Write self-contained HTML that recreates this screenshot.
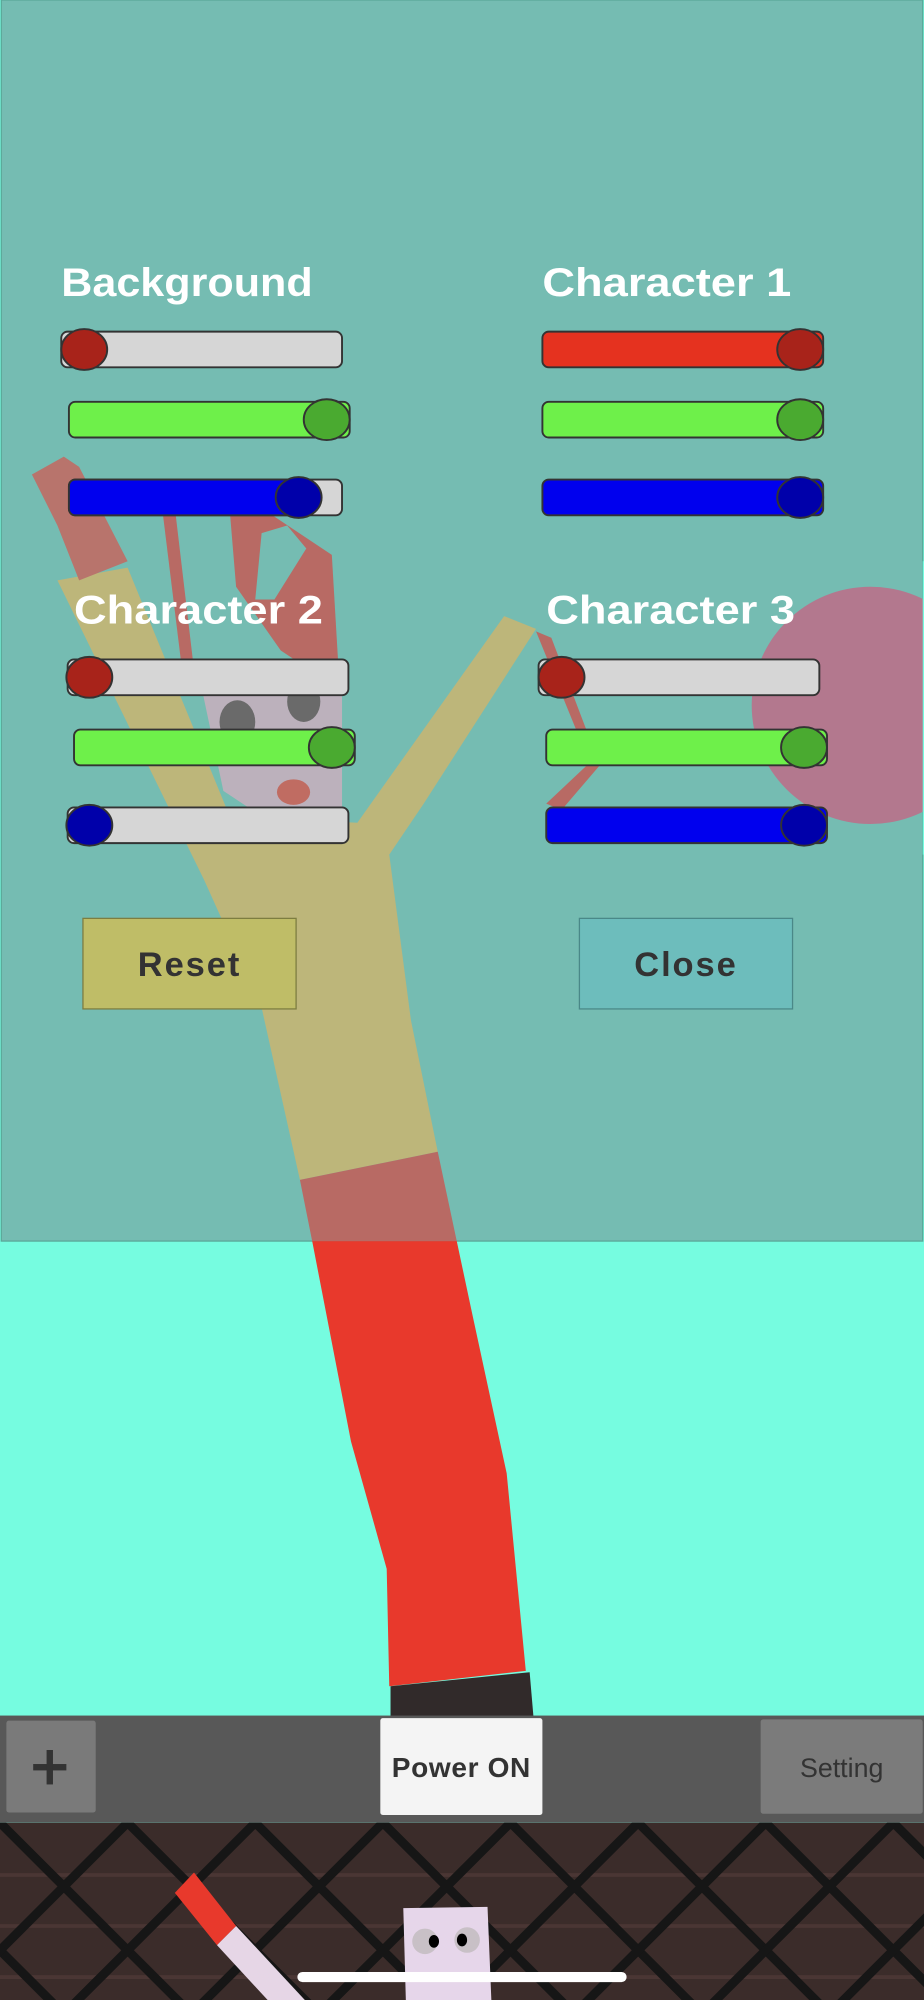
<!DOCTYPE html>
<html><head><meta charset="utf-8"><style>html,body{margin:0;padding:0;background:#76fce0}svg{display:block}</style></head>
<body>
<svg width="924" height="2000" viewBox="0 0 724 1568" preserveAspectRatio="none" xmlns="http://www.w3.org/2000/svg" font-family="Liberation Sans, sans-serif">
<defs>
<clipPath id="top"><rect x="0" y="0" width="724" height="973"/></clipPath>
<clipPath id="bot"><rect x="0" y="973" width="724" height="400"/></clipPath>
<clipPath id="scr"><rect x="0" y="1429" width="724" height="139"/></clipPath>
</defs>
<rect width="724" height="1568" fill="#76fce0"/>
<!-- panel -->
<rect x="1" y="0" width="722" height="973" fill="#75bcb2" stroke="#5aa898" stroke-width="1"/>
<!-- figure (blended inside panel) -->
<circle cx="682" cy="553" r="93" fill="#b3788e"/>
<rect x="723" y="440" width="2" height="230" fill="#76fce0"/>
<polygon points="45,455 100,445 180,640 280,645 395,483 420,493 332,630 305,670 322,800 343,903 235,925 205,790 160,690" fill="#bdb67a"/>
<polygon points="25,372 50,358 62,366 100,440 62,455 45,412" fill="#b8746c"/>
<polygon points="127,398 137,398 152,525 143,528" fill="#b86a64"/>
<polygon points="180,400 200,395 260,435 265,520 250,530 220,510 185,460" fill="#b86a64"/>
<polygon points="205,418 225,412 240,430 215,470 200,470" fill="#75bcb2"/>
<polygon points="155,525 268,520 268,640 220,650 175,620" fill="#bcb1bc"/>
<ellipse cx="186" cy="566" rx="14" ry="17" fill="#6a6a6a"/>
<ellipse cx="238" cy="550" rx="13" ry="16" fill="#6a6a6a"/>
<ellipse cx="230" cy="621" rx="13" ry="10" fill="#c06c62"/>
<polygon points="420,495 432,500 470,600 440,635 428,630 462,598" fill="#b86a64"/>
<polygon points="235,925 343,903 370,1030 397,1155 412,1310 305,1322 303,1230 275,1130 245,975" fill="#b86a64" clip-path="url(#top)"/>
<polygon points="235,925 343,903 370,1030 397,1155 412,1310 305,1322 303,1230 275,1130 245,975" fill="#e8392c" clip-path="url(#bot)"/>
<polygon points="306,1322 415,1311 418,1346 306,1346" fill="#312a2a"/>
<!-- labels -->
<g fill="#fff" font-weight="bold" font-size="31">
<text x="48" y="232" textLength="197" lengthAdjust="spacingAndGlyphs">Background</text>
<text x="425" y="232" textLength="195" lengthAdjust="spacingAndGlyphs">Character 1</text>
<text x="58" y="489" textLength="195" lengthAdjust="spacingAndGlyphs">Character 2</text>
<text x="428" y="489" textLength="195" lengthAdjust="spacingAndGlyphs">Character 3</text>
</g>
<!-- sliders -->
<g stroke="#333" stroke-width="1.5">
<rect x="48" y="260" width="220" height="28" rx="5" fill="#d6d6d6"/><ellipse cx="66" cy="274" rx="18" ry="16" fill="#a8231a"/>
<rect x="54" y="315" width="220" height="28" rx="5" fill="#6ef04a"/><ellipse cx="256" cy="329" rx="18" ry="16" fill="#4aaa30"/>
<rect x="54" y="376" width="214" height="28" rx="5" fill="#d6d6d6"/><rect x="54" y="376" width="180" height="28" rx="5" fill="#0000ee"/><ellipse cx="234" cy="390" rx="18" ry="16" fill="#0000aa"/>
<rect x="425" y="260" width="220" height="28" rx="5" fill="#e5321f"/><ellipse cx="627" cy="274" rx="18" ry="16" fill="#a8231a"/>
<rect x="425" y="315" width="220" height="28" rx="5" fill="#6ef04a"/><ellipse cx="627" cy="329" rx="18" ry="16" fill="#4aaa30"/>
<rect x="425" y="376" width="220" height="28" rx="5" fill="#0000ee"/><ellipse cx="627" cy="390" rx="18" ry="16" fill="#0000aa"/>
<rect x="53" y="517" width="220" height="28" rx="5" fill="#d6d6d6"/><ellipse cx="70" cy="531" rx="18" ry="16" fill="#a8231a"/>
<rect x="58" y="572" width="220" height="28" rx="5" fill="#6ef04a"/><ellipse cx="260" cy="586" rx="18" ry="16" fill="#4aaa30"/>
<rect x="53" y="633" width="220" height="28" rx="5" fill="#d6d6d6"/><ellipse cx="70" cy="647" rx="18" ry="16" fill="#0000aa"/>
<rect x="422" y="517" width="220" height="28" rx="5" fill="#d6d6d6"/><ellipse cx="440" cy="531" rx="18" ry="16" fill="#a8231a"/>
<rect x="428" y="572" width="220" height="28" rx="5" fill="#6ef04a"/><ellipse cx="630" cy="586" rx="18" ry="16" fill="#4aaa30"/>
<rect x="428" y="633" width="220" height="28" rx="5" fill="#0000ee"/><ellipse cx="630" cy="647" rx="18" ry="16" fill="#0000aa"/>
</g>
<!-- buttons -->
<rect x="65" y="720" width="167" height="71" fill="#bfbd67" stroke="#7d7d40"/>
<text x="148.5" y="765" text-anchor="middle" font-size="27" font-weight="bold" fill="#333" letter-spacing="1.5">Reset</text>
<rect x="454" y="720" width="167" height="71" fill="#6dbdbc" stroke="#4a8888"/>
<text x="537.5" y="765" text-anchor="middle" font-size="27" font-weight="bold" fill="#333" letter-spacing="1.5">Close</text>
<!-- bottom bar -->
<rect x="0" y="1345" width="724" height="84" fill="#585858"/>
<rect x="5" y="1349" width="70" height="72" rx="2" fill="#7a7a7a"/>
<rect x="26" y="1383" width="26" height="5" fill="#333"/><rect x="36.5" y="1372" width="5" height="27" fill="#333"/>
<rect x="298" y="1347" width="127" height="76" rx="2" fill="#f4f4f4"/>
<text x="361.5" y="1393" text-anchor="middle" font-size="22" font-weight="bold" fill="#333" letter-spacing="0.5">Power ON</text>
<rect x="596" y="1348" width="127" height="74" rx="2" fill="#7b7b7b"/>
<text x="659.5" y="1393" text-anchor="middle" font-size="21" fill="#333">Setting</text>
<!-- bottom scene -->
<g clip-path="url(#scr)">
<rect x="0" y="1429" width="724" height="139" fill="#3b2c2a"/>
<g stroke="#4a3634" stroke-width="3">
<line x1="0" y1="1470" x2="724" y2="1470"/><line x1="0" y1="1510" x2="724" y2="1510"/><line x1="0" y1="1550" x2="724" y2="1550"/>
</g>
<g stroke="#161616" stroke-width="7" fill="none">
<path d="M-200,1429 l200,200 M-100,1429 l200,200 M0,1429 l200,200 M100,1429 l200,200 M200,1429 l200,200 M300,1429 l200,200 M400,1429 l200,200 M500,1429 l200,200 M600,1429 l200,200 M700,1429 l200,200"/>
<path d="M100,1429 l-200,200 M200,1429 l-200,200 M300,1429 l-200,200 M400,1429 l-200,200 M500,1429 l-200,200 M600,1429 l-200,200 M700,1429 l-200,200 M800,1429 l-200,200 M900,1429 l-200,200"/>
</g>
<polygon points="137,1484 152,1468 185,1510 170,1525" fill="#e8392c"/>
<polygon points="170,1525 185,1510 250,1580 230,1590" fill="#e6d6e6"/>
<polygon points="316,1496 382,1495 385,1568 318,1568" fill="#e6d6ea"/>
<ellipse cx="333" cy="1522" rx="10" ry="10" fill="#c8c0c6"/><ellipse cx="366" cy="1521" rx="10" ry="10" fill="#c8c0c6"/>
<ellipse cx="340" cy="1522" rx="4" ry="5" fill="#000"/><ellipse cx="362" cy="1521" rx="4" ry="5" fill="#000"/>
</g>
<rect x="233" y="1546" width="258" height="8" rx="4" fill="#fff"/>
</svg>
</body></html>
